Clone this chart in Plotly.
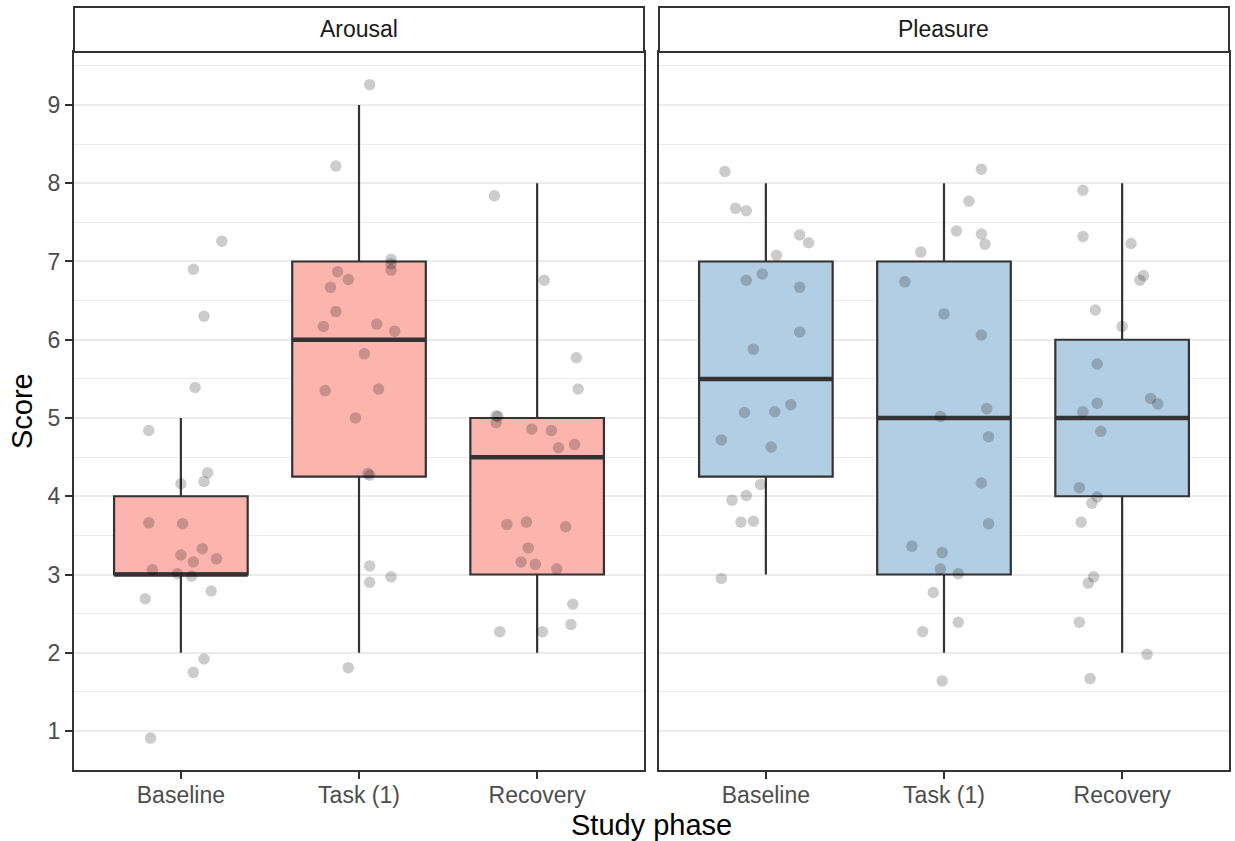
import plotly.graph_objects as go

phases = ["Baseline", "Task (1)", "Recovery"]
panels = ["Arousal", "Pleasure"]
fills = {"Arousal": "#FBB4AE", "Pleasure": "#B3CDE3"}

# Box statistics per phase
arousal_lower = [2, 2, 2]
arousal_q1 = [3, 4.25, 3]
arousal_median = [3, 6, 4.5]
arousal_q3 = [4, 7, 5]
arousal_upper = [5, 9, 8]

pleasure_lower = [3, 2, 2]
pleasure_q1 = [4.25, 3, 4]
pleasure_median = [5.5, 5, 5]
pleasure_q3 = [7, 7, 6]
pleasure_upper = [8, 8, 8]

# Jittered individual scores (value) and horizontal jitter (offset from phase)
arousal_baseline_scores = [7.26, 6.90, 6.30, 5.39, 4.84, 4.30, 4.19, 4.16, 3.66, 3.65, 3.33,
                           3.25, 3.20, 3.16, 3.06, 3.01, 2.98, 2.79, 2.69, 1.92, 1.75, 0.91]
arousal_baseline_jitter = [0.23, 0.07, 0.13, 0.08, -0.18, 0.15, 0.13, 0.00, -0.18, 0.01, 0.12,
                           0.00, 0.20, 0.07, -0.16, -0.02, 0.06, 0.17, -0.20, 0.13, 0.07, -0.17]

arousal_task_scores = [9.26, 8.22, 7.03, 6.97, 6.89, 6.87, 6.77, 6.67, 6.36, 6.20, 6.17,
                       6.11, 5.82, 5.37, 5.35, 5.00, 4.29, 4.27, 3.11, 2.97, 2.90, 1.81]
arousal_task_jitter = [0.06, -0.13, 0.18, 0.18, 0.18, -0.12, -0.06, -0.16, -0.13, 0.10, -0.20,
                       0.20, 0.03, 0.11, -0.19, -0.02, 0.05, 0.06, 0.06, 0.18, 0.06, -0.06]

arousal_recovery_scores = [7.84, 6.76, 5.77, 5.37, 5.03, 5.02, 4.94, 4.86, 4.84, 4.66, 4.62,
                           3.67, 3.64, 3.61, 3.34, 3.16, 3.13, 3.07, 2.62, 2.36, 2.27, 2.27]
arousal_recovery_jitter = [-0.24, 0.04, 0.22, 0.23, -0.23, -0.22, -0.23, -0.03, 0.08, 0.21, 0.12,
                           -0.06, -0.17, 0.16, -0.05, -0.09, -0.01, 0.11, 0.20, 0.19, -0.21, 0.03]

pleasure_baseline_scores = [8.15, 7.68, 7.65, 7.34, 7.24, 7.08, 6.84, 6.76, 6.67, 6.10, 5.88,
                            5.17, 5.08, 5.07, 4.72, 4.63, 4.15, 4.01, 3.95, 3.68, 3.67, 2.95]
pleasure_baseline_jitter = [-0.23, -0.17, -0.11, 0.19, 0.24, 0.06, -0.02, -0.11, 0.19, 0.19, -0.07,
                            0.14, 0.05, -0.12, -0.25, 0.03, -0.03, -0.11, -0.19, -0.07, -0.14, -0.25]

pleasure_task_scores = [8.18, 7.77, 7.39, 7.35, 7.22, 7.12, 6.74, 6.33, 6.06, 5.12, 5.02,
                        4.76, 4.17, 3.65, 3.36, 3.28, 3.07, 3.01, 2.77, 2.39, 2.27, 1.64]
pleasure_task_jitter = [0.21, 0.14, 0.07, 0.21, 0.23, -0.13, -0.22, 0.00, 0.21, 0.24, -0.02,
                        0.25, 0.21, 0.25, -0.18, -0.01, -0.02, 0.08, -0.06, 0.08, -0.12, -0.01]

pleasure_recovery_scores = [7.91, 7.32, 7.23, 6.82, 6.76, 6.38, 6.17, 5.69, 5.25, 5.19, 5.18,
                            5.08, 4.83, 4.11, 3.99, 3.91, 3.67, 2.97, 2.89, 2.39, 1.98, 1.67]
pleasure_recovery_jitter = [-0.22, -0.22, 0.05, 0.12, 0.10, -0.15, 0.00, -0.14, 0.16, -0.14, 0.20,
                            -0.22, -0.12, -0.24, -0.14, -0.17, -0.23, -0.16, -0.19, -0.24, 0.14, -0.18]

stats = {
    "Arousal": (arousal_lower, arousal_q1, arousal_median, arousal_q3, arousal_upper),
    "Pleasure": (pleasure_lower, pleasure_q1, pleasure_median, pleasure_q3, pleasure_upper),
}
points = {
    "Arousal": [(arousal_baseline_scores, arousal_baseline_jitter),
                (arousal_task_scores, arousal_task_jitter),
                (arousal_recovery_scores, arousal_recovery_jitter)],
    "Pleasure": [(pleasure_baseline_scores, pleasure_baseline_jitter),
                 (pleasure_task_scores, pleasure_task_jitter),
                 (pleasure_recovery_scores, pleasure_recovery_jitter)],
}

BOX_W = 0.75
DARK = "#333333"
FONT = "Liberation Sans, Arial, Helvetica, sans-serif"

fig = go.Figure()
positions = [i + 1 for i in range(len(phases))]

for p, panel in enumerate(panels):
    xa = "x" if p == 0 else "x2"
    ya = "y" if p == 0 else "y2"
    lo, q1, med, q3, hi = stats[panel]
    fig.add_trace(go.Box(
        x=positions, q1=q1, median=med, q3=q3, lowerfence=lo, upperfence=hi,
        width=BOX_W, whiskerwidth=0, boxpoints=False,
        fillcolor=fills[panel], line=dict(color=DARK, width=2.2),
        xaxis=xa, yaxis=ya, showlegend=False, hoverinfo="skip",
    ))
    # thicker median lines (ggplot style)
    for i, m in enumerate(med):
        fig.add_trace(go.Scatter(
            x=[positions[i] - BOX_W / 2, positions[i] + BOX_W / 2], y=[m, m],
            mode="lines", line=dict(color=DARK, width=4.5),
            xaxis=xa, yaxis=ya, showlegend=False, hoverinfo="skip",
        ))
    for i, (scores, jit) in enumerate(points[panel]):
        fig.add_trace(go.Scatter(
            x=[positions[i] + j for j in jit], y=scores, mode="markers",
            marker=dict(size=11.5, color="rgba(0,0,0,0.2)", line=dict(width=0)),
            xaxis=xa, yaxis=ya, showlegend=False, hoverinfo="skip",
        ))

W, H = 1235, 841
ML, MR, MT, MB = 74, 4, 7, 71
pw = W - ML - MR
ph = H - MT - MB
strip_h = 45
ytop = 1 - strip_h / ph
d1 = [0, (645 - ML) / pw]
d2 = [(660 - ML) / pw, 1]

xcommon = dict(
    range=[0.4, 3.6], tickmode="array", tickvals=positions, ticktext=phases,
    showgrid=False, zeroline=False, showline=True, mirror=True,
    linecolor=DARK, linewidth=2, ticks="outside", ticklen=7, tickwidth=2,
    tickcolor=DARK, tickfont=dict(family=FONT, size=23, color="#4D4D4D"),
    ticklabelstandoff=-4,
)
ycommon = dict(
    range=[0.502, 9.677], tickmode="linear", tick0=1, dtick=1,
    showgrid=True, gridcolor="#EBEBEB", gridwidth=2, zeroline=False,
    showline=True, mirror=True, linecolor=DARK, linewidth=2,
    minor=dict(tickmode="linear", tick0=0.5, dtick=1, showgrid=True,
               gridcolor="#EBEBEB", gridwidth=1, ticks=""),
    domain=[0, ytop],
)

fig.update_layout(
    width=W, height=H, autosize=False,
    margin=dict(l=ML, r=MR, t=MT, b=MB, pad=0),
    plot_bgcolor="white", paper_bgcolor="white",
    font=dict(family=FONT),
    xaxis=dict(domain=d1, anchor="y", **xcommon),
    xaxis2=dict(domain=d2, anchor="y2", **xcommon),
    yaxis=dict(anchor="x", ticks="outside", ticklen=7, tickwidth=2, tickcolor=DARK,
               tickfont=dict(family=FONT, size=23, color="#4D4D4D"), **ycommon),
    yaxis2=dict(anchor="x2", matches="y", showticklabels=False, ticks="", **ycommon),
    showlegend=False,
)

shapes = []
annotations = []
for p, panel in enumerate(panels):
    d = d1 if p == 0 else d2
    shapes.append(dict(type="rect", xref="paper", yref="paper", x0=d[0], x1=d[1],
                       y0=ytop, y1=1, fillcolor="white", line=dict(color=DARK, width=2),
                       layer="above"))
    annotations.append(dict(text=panel, xref="paper", yref="paper",
                            x=(d[0] + d[1]) / 2, y=(ytop + 1) / 2, showarrow=False,
                            xanchor="center", yanchor="middle",
                            font=dict(family=FONT, size=23, color="#1A1A1A")))

annotations.append(dict(text="Study phase", xref="paper", yref="paper",
                        x=0.5, y=-(825 - (H - MB)) / ph, showarrow=False,
                        xanchor="center", yanchor="middle",
                        font=dict(family=FONT, size=29, color="black")))
annotations.append(dict(text="Score", xref="paper", yref="paper",
                        x=-(ML - 22) / pw, y=(ph - (411 - MT)) / ph, showarrow=False,
                        xanchor="center", yanchor="middle", textangle=-90,
                        font=dict(family=FONT, size=29, color="black")))

fig.update_layout(shapes=shapes, annotations=annotations)
fig.write_html("out.html", config={"displayModeBar": False},
               post_script="document.body.style.margin='0';document.body.style.padding='0';")
